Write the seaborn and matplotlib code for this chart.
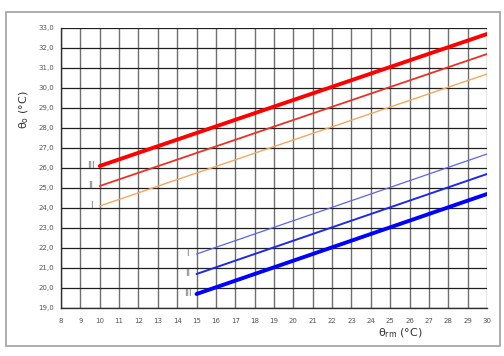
import matplotlib
matplotlib.use("Agg")
import matplotlib.pyplot as plt
import seaborn as sns
import pandas as pd
import numpy as np

# Data
heat_x = [10, 30]
heat_III = [26.1, 32.7]
heat_II = [25.1, 31.7]
heat_I = [24.1, 30.7]
cool_x = [15, 30]
cool_I = [21.7, 26.7]
cool_II = [20.7, 25.7]
cool_III = [19.7, 24.7]
x_ticks = list(range(8, 31))
y_ticks = [19.0 + i for i in range(15)]

rows = []
for name, xs, ys in [("hIII", heat_x, heat_III), ("hII", heat_x, heat_II), ("hI", heat_x, heat_I),
                     ("cI", cool_x, cool_I), ("cII", cool_x, cool_II), ("cIII", cool_x, cool_III)]:
    for xv, yv in zip(xs, ys):
        rows.append({"series": name, "x": xv, "y": yv})
df = pd.DataFrame(rows)

sns.set_theme(style="white")
plt.rcParams['font.family'] = ['DejaVu Sans']

fig = plt.figure(figsize=(5.04, 3.56), dpi=100)
fig.patch.set_facecolor("white")
# outer frame
fig.add_artist(plt.Rectangle((6/504, 1-346/356), 494/504, 334/356, transform=fig.transFigure,
                             fill=False, edgecolor="#a0a0a0", linewidth=1.2))
ax = fig.add_axes([61/504, 1-308/356, 426/504, 280/356])

palette = {"hIII": "#ff0000", "hII": "#e83228", "hI": "#f0a860",
           "cI": "#5a64e6", "cII": "#1e28e6", "cIII": "#0000ff"}
widths = {"hIII": 2.8, "hII": 1.3, "hI": 1.0, "cI": 0.9, "cII": 1.4, "cIII": 2.8}
for name in palette:
    sub = df[df.series == name]
    sns.lineplot(data=sub, x="x", y="y", ax=ax, color=palette[name], linewidth=widths[name],
                 zorder=3, legend=False)

ax.set_xlim(8, 30)
ax.set_ylim(19, 33)
ax.set_xticks(x_ticks)
ax.set_yticks(y_ticks)
ax.set_xticklabels([str(v) for v in x_ticks])
ax.set_yticklabels([f"{v:.1f}".replace(".", ",") for v in y_ticks])
ax.tick_params(axis="both", labelsize=5, colors="#555555", length=2, width=0.6, pad=3)
ax.tick_params(axis="x", pad=5)
for v in x_ticks:
    ax.axvline(v, color="#707070", linewidth=1.0, zorder=1)
for v in y_ticks:
    ax.axhline(v, color="#202020", linewidth=0.9, zorder=1)
for s in ["top", "right"]:
    ax.spines[s].set_visible(False)
for s in ["left", "bottom"]:
    ax.spines[s].set_color("#303030")
    ax.spines[s].set_linewidth(1.0)
ax.set_xlabel("")
ax.set_ylabel("")

# series labels
lab_kw = dict(fontsize=6, color="#707070", ha="center", va="center")
ax.text(9.55, heat_III[0], "III", **lab_kw)
ax.text(9.55, heat_II[0], "II", **lab_kw)
ax.text(9.55, heat_I[0], "I", **lab_kw)
ax.text(14.55, cool_I[0], "I", **lab_kw)
ax.text(14.55, cool_II[0], "II", **lab_kw)
ax.text(14.55, cool_III[0], "III", **lab_kw)

fig.text(400/504, 1-333/356, r"θ$_{\rm rm}$ (°C)", fontsize=8, color="#333333", ha="center", va="center")
fig.text(24/504, 1-110/356, r"θ$_{\rm o}$ (°C)", fontsize=8, color="#333333", ha="center", va="center",
         rotation=90)

fig.savefig("out.png", dpi=100, facecolor="white")
